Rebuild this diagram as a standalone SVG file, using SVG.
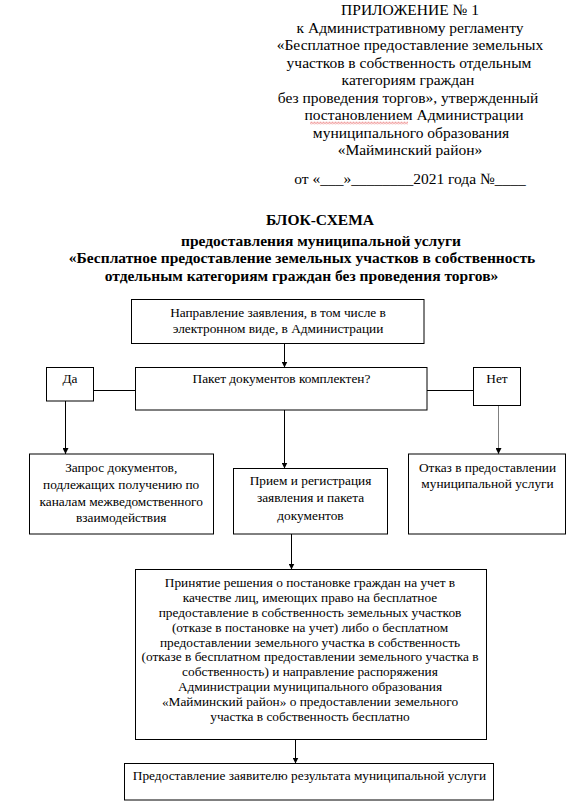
<svg xmlns="http://www.w3.org/2000/svg" width="586" height="807" viewBox="0 0 586 807">
<style>
  text { font-family: "Liberation Serif", "Times New Roman", serif; fill: #000; }
  .hdr { font-size: 15.5px; text-anchor: middle; }
  .ttl { font-size: 15.5px; font-weight: bold; text-anchor: middle; }
  .bx { font-size: 13.33px; text-anchor: middle; }
  .box { fill: #fff; stroke: #000; stroke-width: 1; }
  .ln { fill: none; stroke: #000; stroke-width: 1; }
  .arr { fill: none; stroke: #000; stroke-width: 1; marker-end: url(#ah); }
  .arrg { fill: none; stroke: #808080; stroke-width: 1; marker-end: url(#ah); }
</style>
<defs>
  <marker id="ah" viewBox="0 0 10 10" refX="10" refY="5" markerUnits="userSpaceOnUse" markerWidth="6" markerHeight="6" orient="auto">
    <path d="M0,0 L10,5 L0,10 z" fill="#000"/>
  </marker>
  <pattern id="wave" x="310" y="121.5" width="3" height="3" patternUnits="userSpaceOnUse">
    <path d="M0,2.5 L1.5,0.5 L3,2.5" fill="none" stroke="#e03030" stroke-width="0.7"/>
  </pattern>
</defs>
<rect width="586" height="807" fill="#fff"/>

<g id="header">
  <text class="hdr" x="410" y="15">ПРИЛОЖЕНИЕ № 1</text>
  <text class="hdr" x="410" y="32.5">к Административному регламенту</text>
  <text class="hdr" x="410" y="50">«Бесплатное предоставление земельных</text>
  <text class="hdr" x="409" y="67.5">участков в собственность отдельным</text>
  <text class="hdr" x="408" y="85">категориям граждан</text>
  <text class="hdr" x="408" y="102.5">без проведения торгов», утвержденный</text>
  <text class="hdr" x="414" y="120">постановлением Администрации</text>
  <rect x="310" y="121.5" width="98" height="3" fill="url(#wave)"/>
  <text class="hdr" x="411" y="137.5">муниципального образования</text>
  <text class="hdr" x="410" y="155">«Майминский район»</text>
  <text class="hdr" x="410" y="184.3">от «___»________2021 года №____</text>
</g>

<g id="title">
  <text class="ttl" x="320" y="225">БЛОК-СХЕМА</text>
  <text class="ttl" x="321" y="245.7">предоставления муниципальной услуги</text>
  <text class="ttl" x="302" y="263.3">«Бесплатное предоставление земельных участков в собственность</text>
  <text class="ttl" x="301.5" y="280.5">отдельным категориям граждан без проведения торгов»</text>
</g>

<g id="connectors">
  <line class="arr" x1="284.5" y1="343.5" x2="284.5" y2="367.5"/>
  <line class="ln" x1="93.5" y1="390.5" x2="135.5" y2="390.5"/>
  <line class="ln" x1="427" y1="390.5" x2="473.5" y2="390.5"/>
  <line class="arr" x1="65.5" y1="401" x2="65.5" y2="454"/>
  <line class="arr" x1="284.5" y1="410" x2="284.5" y2="468.5"/>
  <line class="arrg" x1="498.5" y1="405.5" x2="498.5" y2="454"/>
  <line class="arr" x1="291.5" y1="534" x2="291.5" y2="569.5"/>
  <line class="arr" x1="295.5" y1="739.5" x2="295.5" y2="763.5"/>
</g>

<g id="n-submit">
  <rect class="box" x="131.5" y="299.5" width="292.5" height="44"/>
  <text class="bx" x="278" y="317.3">Направление заявления, в том числе в</text>
  <text class="bx" x="278" y="333.3">электронном виде, в Администрации</text>
</g>

<g id="n-check">
  <rect class="box" x="135.5" y="367.5" width="291.5" height="42.5"/>
  <text class="bx" x="281.5" y="383.3">Пакет документов комплектен?</text>
</g>

<g id="n-yes">
  <rect class="box" x="46.5" y="367.5" width="47" height="33.5"/>
  <text class="bx" x="70" y="383.3">Да</text>
</g>

<g id="n-no">
  <rect class="box" x="473.5" y="367.5" width="47" height="38"/>
  <text class="bx" x="497" y="383.3">Нет</text>
</g>

<g id="n-request">
  <rect class="box" x="29.5" y="454" width="184" height="80"/>
  <text class="bx" x="121.2" y="472.3">Запрос документов,</text>
  <text class="bx" x="121.2" y="489">подлежащих получению по</text>
  <text class="bx" x="121.2" y="505.7">каналам межведомственного</text>
  <text class="bx" x="121.2" y="522.3">взаимодействия</text>
</g>

<g id="n-register">
  <rect class="box" x="233.5" y="468.5" width="154" height="65.5"/>
  <text class="bx" x="310.5" y="485">Прием и регистрация</text>
  <text class="bx" x="310.5" y="502.3">заявления и пакета</text>
  <text class="bx" x="310.5" y="520">документов</text>
</g>

<g id="n-refuse">
  <rect class="box" x="408.5" y="454" width="157" height="80"/>
  <text class="bx" x="487.5" y="471.7">Отказ в предоставлении</text>
  <text class="bx" x="487.5" y="488.3">муниципальной услуги</text>
</g>

<g id="n-decision">
  <rect class="box" x="135.5" y="569.5" width="351" height="170"/>
  <text class="bx" x="310" y="587.3">Принятие решения о постановке граждан на учет в</text>
  <text class="bx" x="310" y="602.1">качестве лиц, имеющих право на бесплатное</text>
  <text class="bx" x="310" y="616.9">предоставление в собственность земельных участков</text>
  <text class="bx" x="310" y="631.7">(отказе в постановке на учет) либо о бесплатном</text>
  <text class="bx" x="310" y="646.5">предоставлении земельного участка в собственность</text>
  <text class="bx" x="310" y="661.3">(отказе в бесплатном предоставлении земельного участка в</text>
  <text class="bx" x="310" y="676.1">собственность) и направление распоряжения</text>
  <text class="bx" x="310" y="690.9">Администрации муниципального образования</text>
  <text class="bx" x="310" y="705.7">«Майминский район» о предоставлении земельного</text>
  <text class="bx" x="310" y="720.5">участка в собственность бесплатно</text>
</g>

<g id="n-result">
  <rect class="box" x="124.5" y="763.5" width="369" height="36.5"/>
  <text class="bx" x="309.5" y="780">Предоставление заявителю результата муниципальной услуги</text>
</g>
</svg>
